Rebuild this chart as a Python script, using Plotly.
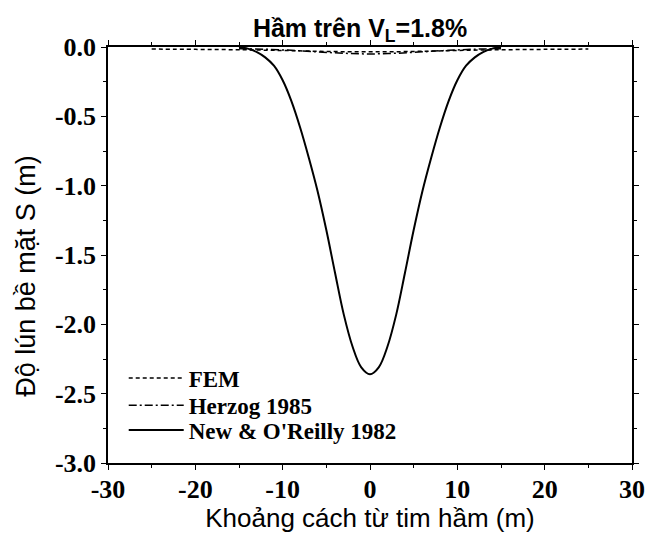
import plotly.graph_objects as go

# Distance from tunnel axis (m)
x_fem = [-25, -20, -15, -10, -5, 0, 5, 10, 15, 20, 25]
s_fem = [-0.015, -0.017, -0.02, -0.025, -0.032, -0.035, -0.032, -0.025, -0.02, -0.017, -0.015]

x_herzog = [-15, -12, -9, -6, -3, 0, 3, 6, 9, 12, 15]
s_herzog = [-0.012, -0.016, -0.024, -0.035, -0.045, -0.05, -0.045, -0.035, -0.024, -0.016, -0.012]

x_new = [-15, -14, -13, -12, -11, -10, -9, -8, -7, -6, -5, -4, -3, -2, -1, 0,
         1, 2, 3, 4, 5, 6, 7, 8, 9, 10, 11, 12, 13, 14, 15]
s_new = [0.0, -0.012, -0.035, -0.075, -0.135, -0.24, -0.39, -0.58, -0.80, -1.04, -1.32, -1.63, -1.93, -2.16, -2.31, -2.36,
         -2.31, -2.16, -1.93, -1.63, -1.32, -1.04, -0.80, -0.58, -0.39, -0.24, -0.135, -0.075, -0.035, -0.012, 0.0]

x_ticks = [-30, -20, -10, 0, 10, 20, 30]
y_ticks = [0.0, -0.5, -1.0, -1.5, -2.0, -2.5, -3.0]

serif = "Liberation Serif"
sans = "Liberation Sans"

fig = go.Figure()
fig.add_trace(go.Scatter(x=x_fem, y=s_fem, mode="lines", name="FEM", legend="legend",
                         line=dict(color="black", width=1.5, dash="4px,3px", shape="spline")))
fig.add_trace(go.Scatter(x=x_herzog, y=s_herzog, mode="lines", name="Herzog 1985", legend="legend2",
                         line=dict(color="black", width=1.5, dash="8px,3px,2px,3px", shape="spline")))
fig.add_trace(go.Scatter(x=x_new, y=s_new, mode="lines", name="New & O'Reilly 1982", legend="legend3",
                         line=dict(color="black", width=2, shape="spline")))

axis_common = dict(
    showgrid=False, zeroline=False, showline=True, linecolor="black", linewidth=1.5,
    mirror="ticks", ticks="outside", ticklen=5, tickwidth=1.2, tickcolor="black",
    tickfont=dict(family=serif, size=26, color="black", weight="bold"),
    automargin=False,
)

fig.update_xaxes(
    range=[-30, 30], tickvals=x_ticks, ticktext=[str(v) for v in x_ticks],
    minor=dict(dtick=5, ticks="outside", ticklen=3, tickcolor="black", tickwidth=1.2),
    title=dict(text="Khoảng cách từ tim hầm (m)", font=dict(family=sans, size=26, color="black"), standoff=2),
    ticklabelstandoff=-3,
    **axis_common,
)
fig.update_yaxes(
    range=[-3.0, 0.0], tickvals=y_ticks, ticktext=[f"{v:.1f}" for v in y_ticks],
    minor=dict(dtick=0.25, ticks="outside", ticklen=3, tickcolor="black", tickwidth=1.2),
    **axis_common,
)

# Vertical axis title, placed as a rotated annotation beside the tick labels
fig.add_annotation(text="Độ lún bề mặt S (m)", textangle=-90, xref="paper", yref="paper",
                   x=-0.157, y=0.4495, xanchor="center", yanchor="middle", showarrow=False,
                   font=dict(family=sans, size=27, color="black"))

legend_common = dict(x=0.03, xanchor="left", yanchor="middle", bgcolor="rgba(0,0,0,0)",
                     font=dict(family=serif, size=23, color="black", weight="bold"), itemwidth=55)

fig.update_layout(
    width=648, height=533,
    margin=dict(l=108, r=16, t=47, b=70),
    paper_bgcolor="white", plot_bgcolor="white",
    title=dict(text="<b>Hầm trên V<sub>L</sub>=1.8%</b>", x=0.5556, xanchor="center",
               y=0.947, yanchor="middle", font=dict(family=sans, size=25, color="black")),
    showlegend=True,
    legend=dict(y=0.204, **legend_common),
    legend2=dict(y=0.139, **legend_common),
    legend3=dict(y=0.079, **legend_common),
)

fig.write_html("out.html")
